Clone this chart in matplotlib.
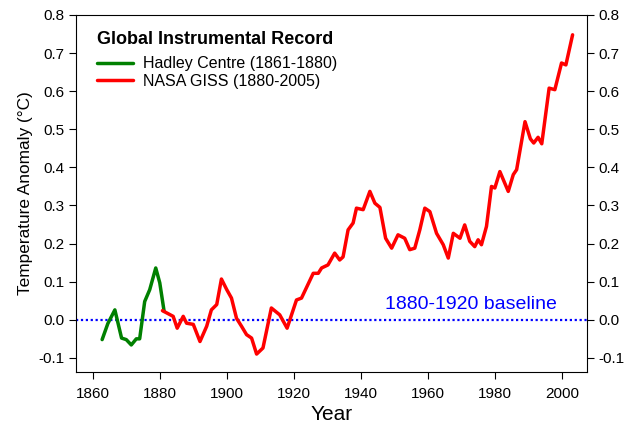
import numpy as np
import matplotlib
matplotlib.use("Agg")
from matplotlib import pyplot as plt

# Hadley Centre (green)
hadley_year = [1862.8, 1864.5, 1866.6, 1868.6, 1870.0, 1871.5, 1873.0, 1874.0,
               1875.5, 1877.0, 1878.8, 1880.0, 1881.3]
hadley_temp = [-0.052, -0.010, 0.026, -0.048, -0.052, -0.066, -0.050, -0.050,
               0.048, 0.079, 0.136, 0.097, 0.022]

# NASA GISS (red)
giss_year = [1880.8, 1884.0, 1885.2, 1887.0, 1888.0, 1890.0, 1892.0, 1894.0, 1895.4,
             1897.0, 1898.4, 1900.0, 1901.4, 1902.9, 1904.4, 1905.9, 1907.4, 1908.9,
             1910.8, 1913.3, 1915.8, 1918.0, 1920.8, 1922.3, 1925.8, 1927.3, 1928.3,
             1930.2, 1932.2, 1933.7, 1934.7, 1936.2, 1937.7, 1938.7, 1940.7, 1942.7,
             1944.2, 1945.7, 1947.4, 1949.2, 1951.1, 1953.1, 1954.6, 1956.1, 1957.6,
             1959.1, 1960.6, 1962.6, 1964.6, 1966.1, 1967.6, 1969.6, 1971.0, 1972.5,
             1974.0, 1975.0, 1976.0, 1977.5, 1979.0, 1980.0, 1981.5, 1984.0, 1985.5,
             1986.5, 1989.0, 1990.6, 1991.6, 1992.9, 1994.0, 1996.2, 1997.9, 1999.9,
             2001.2, 2003.2]
giss_temp = [0.024, 0.009, -0.022, 0.009, -0.009, -0.012, -0.057, -0.017, 0.026,
             0.040, 0.107, 0.079, 0.057, 0.004, -0.017, -0.039, -0.048, -0.090,
             -0.074, 0.031, 0.013, -0.022, 0.052, 0.057, 0.122, 0.122, 0.136,
             0.144, 0.175, 0.157, 0.165, 0.236, 0.254, 0.293, 0.289, 0.337,
             0.306, 0.295, 0.214, 0.188, 0.223, 0.214, 0.184, 0.188, 0.236,
             0.293, 0.284, 0.227, 0.197, 0.162, 0.227, 0.214, 0.249, 0.206,
             0.192, 0.210, 0.197, 0.245, 0.350, 0.346, 0.389, 0.337, 0.381,
             0.394, 0.520, 0.475, 0.464, 0.479, 0.462, 0.608, 0.604, 0.674,
             0.669, 0.748]

plt.rcParams["font.family"] = ["Liberation Sans", "DejaVu Sans"]

fig = plt.figure(figsize=(6.26, 4.26), dpi=100)
ax = fig.add_axes([0.1214, 0.1268, 0.8163, 0.838])

ax.axhline(0.0, color="#0000ff", lw=1.6, ls=(0, (1, 1.2)))
ax.plot(hadley_year, hadley_temp, color="#008000", lw=2.5, solid_capstyle="round",
        solid_joinstyle="round", label="Hadley Centre (1861-1880)")
ax.plot(giss_year, giss_temp, color="#ff0000", lw=2.5, solid_capstyle="round",
        solid_joinstyle="round", label="NASA GISS (1880-2005)")

ax.text(1972.8, 0.04, "1880-1920 baseline", color="#0000ff", fontsize=14,
        ha="center", va="center")

ax.set_xlim(1855, 2007.5)
ax.set_ylim(-0.137, 0.8)
ax.set_xticks(np.arange(1860, 2001, 20))
ax.set_yticks(np.arange(-0.1, 0.81, 0.1))
ax.yaxis.set_major_formatter(matplotlib.ticker.FormatStrFormatter("%.1f"))
ax.tick_params(direction="out", length=5, labelsize=11, right=True, labelright=True)
ax.tick_params(axis="x", pad=6)
ax.set_xlabel("Year", fontsize=15, labelpad=3)
ax.set_ylabel("Temperature Anomaly (°C)", fontsize=12.4)

ax.text(0.041, 0.930, "Global Instrumental Record", transform=ax.transAxes,
        fontsize=13, fontweight="bold", ha="left", va="center")
ax.legend(loc="upper left", bbox_to_anchor=(0.041, 0.884), frameon=False,
          fontsize=11.5, handlelength=2.25, borderaxespad=0, borderpad=0,
          labelspacing=0.15, handletextpad=0.62)

fig.savefig("out.png", dpi=100)
